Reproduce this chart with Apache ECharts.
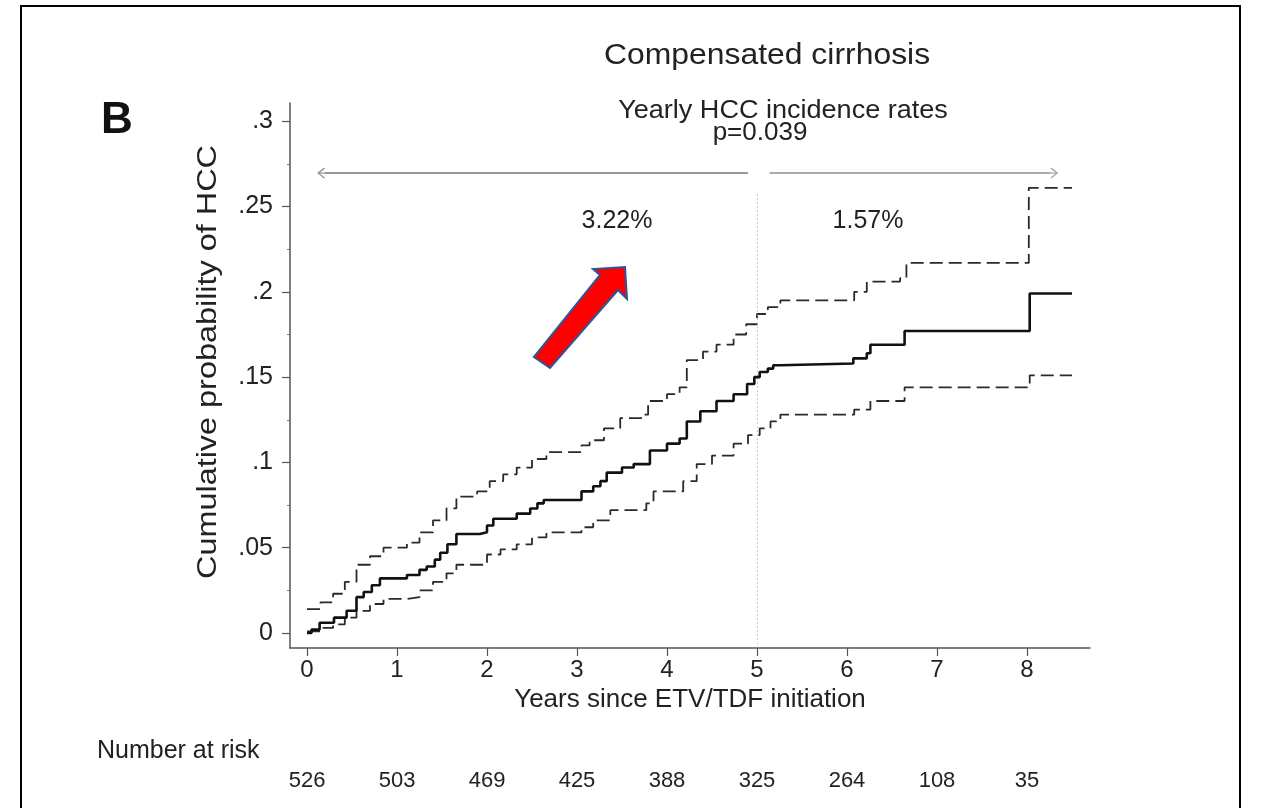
<!DOCTYPE html>
<html>
<head>
<meta charset="utf-8">
<script src="https://cdn.jsdelivr.net/npm/echarts@6/dist/echarts.min.js"></script>
<style>
html,body{margin:0;padding:0;background:#fff;}
#chart{width:1261px;height:808px;}
</style>
</head>
<body>
<div id="chart"></div>
<script>
// ---- data ----
const kmEstimate = [[0,0],[0.05,0.002],[0.14,0.006],[0.3,0.009],[0.44,0.013],[0.55,0.021],[0.63,0.024],[0.72,0.028],[0.81,0.032],[1.11,0.034],[1.25,0.037],[1.33,0.039],[1.42,0.043],[1.48,0.047],[1.56,0.052],[1.66,0.058],[1.92,0.059],[2.0,0.063],[2.07,0.067],[2.33,0.070],[2.48,0.073],[2.56,0.076],[2.63,0.078],[3.05,0.083],[3.18,0.086],[3.26,0.089],[3.33,0.094],[3.5,0.097],[3.63,0.099],[3.81,0.107],[4.0,0.111],[4.14,0.114],[4.22,0.124],[4.37,0.130],[4.55,0.136],[4.74,0.140],[4.89,0.146],[4.97,0.150],[5.03,0.153],[5.12,0.155],[5.18,0.157],[5.26,0.158],[6.07,0.161],[6.22,0.164],[6.26,0.169],[6.64,0.177],[8.03,0.199],[8.5,0.199]];
const upperCI = [[0,0.014],[0.15,0.018],[0.29,0.023],[0.42,0.030],[0.55,0.040],[0.7,0.045],[0.85,0.050],[1.11,0.053],[1.25,0.059],[1.40,0.066],[1.55,0.073],[1.66,0.080],[1.89,0.083],[2.03,0.089],[2.18,0.093],[2.33,0.097],[2.5,0.102],[2.66,0.106],[3.05,0.110],[3.14,0.113],[3.3,0.120],[3.48,0.126],[3.74,0.128],[3.79,0.136],[4.0,0.140],[4.14,0.144],[4.22,0.160],[4.4,0.165],[4.55,0.169],[4.74,0.175],[4.88,0.181],[5.0,0.187],[5.12,0.191],[5.26,0.195],[6.08,0.200],[6.22,0.206],[6.59,0.208],[6.66,0.217],[8.02,0.261],[8.5,0.261]];
const lowerCI = [[0,0.001],[0.15,0.003],[0.29,0.005],[0.42,0.009],[0.55,0.013],[0.7,0.017],[0.85,0.020],[1.11,0.021],[1.25,0.025],[1.40,0.030],[1.55,0.035],[1.66,0.040],[2.0,0.046],[2.15,0.049],[2.33,0.052],[2.5,0.056],[2.66,0.059],[3.05,0.062],[3.18,0.066],[3.37,0.072],[3.77,0.076],[3.85,0.083],[4.18,0.089],[4.33,0.099],[4.5,0.104],[4.74,0.111],[4.9,0.116],[5.03,0.120],[5.15,0.124],[5.26,0.128],[6.08,0.131],[6.26,0.136],[6.64,0.144],[8.03,0.151],[8.5,0.151]];
const xTicks = [0,1,2,3,4,5,6,7,8];
const yTicks = [0,0.05,0.1,0.15,0.2,0.25,0.3];
const yMinorTicks = [0.025,0.075,0.125,0.175,0.225,0.275];
const atRisk = [526,503,469,425,388,325,264,108,35];
const splitYear = 5;
const ratesLabels = ['3.22%','1.57%'];

const FONT = "'Liberation Sans', Arial, Helvetica, sans-serif";
const X_MIN = -0.189, X_MAX = 8.7, Y_MIN = -0.0088, Y_MAX = 0.3107;
const chevron = 'path://M5,0 L10,7 L9,8 L5.6,3 L5.6,16 L4.4,16 L4.4,3 L1,8 L0,7 Z';

const chart = echarts.init(document.getElementById('chart'), null, {renderer:'canvas'});
const option = {
  animation: false,
  backgroundColor: '#fff',
  grid: {left: 290, right: 171, top: 103, bottom: 160, containLabel: false, outerBoundsMode: 'none'},
  xAxis: [{
    type: 'value', min: X_MIN, max: X_MAX, position: 'bottom',
    axisLine: {show: true, onZero: false, lineStyle: {color: '#555', width: 1.5}},
    axisTick: {show: true, length: 8, customValues: xTicks, lineStyle: {color: '#555', width: 1.2}},
    axisLabel: {show: true, customValues: xTicks, margin: 10, fontFamily: FONT, fontSize: 24, color: '#222',
      formatter: v => String(Math.round(v))},
    splitLine: {show: false},
    name: 'Years since ETV/TDF initiation', nameLocation: 'middle', nameGap: 31,
    nameTextStyle: {fontFamily: FONT, fontSize: 26, color: '#222'}
  }, {
    type: 'value', min: X_MIN, max: X_MAX, position: 'bottom', offset: 114,
    axisLine: {show: false, onZero: false}, axisTick: {show: false}, splitLine: {show: false},
    axisLabel: {show: true, customValues: xTicks, margin: 8, fontFamily: FONT, fontSize: 22, color: '#222',
      formatter: v => String(atRisk[Math.round(v)])}
  }],
  yAxis: [{
    type: 'value', min: Y_MIN, max: Y_MAX, position: 'left',
    axisLine: {show: true, onZero: false, lineStyle: {color: '#555', width: 1.5}},
    axisTick: {show: true, length: 8, customValues: yTicks, lineStyle: {color: '#555', width: 1.2}},
    axisLabel: {show: true, customValues: yTicks, margin: 17, fontFamily: FONT, fontSize: 25, color: '#222',
      formatter: v => v === 0 ? '0' : String(v).replace('0.', '.')},
    splitLine: {show: false}
  }, {
    type: 'value', min: Y_MIN, max: Y_MAX, position: 'left',
    axisLine: {show: false, onZero: false},
    axisTick: {show: true, length: 3, customValues: yMinorTicks, lineStyle: {color: '#777', width: 1}},
    axisLabel: {show: false}, splitLine: {show: false}
  }],
  series: [
    {
      type: 'line', name: 'upper', data: upperCI, step: 'end', showSymbol: false, symbol: 'none',
      xAxisIndex: 0, yAxisIndex: 0, silent: true,
      lineStyle: {color: '#2a2a2a', width: 1.8, type: [13, 6]}
    },
    {
      type: 'line', name: 'lower', data: lowerCI, step: 'end', showSymbol: false, symbol: 'none',
      xAxisIndex: 0, yAxisIndex: 0, silent: true,
      lineStyle: {color: '#2a2a2a', width: 1.8, type: [13, 6]}
    },
    {
      type: 'line', name: 'km', data: kmEstimate, step: 'end', showSymbol: false, symbol: 'none',
      xAxisIndex: 0, yAxisIndex: 0, silent: true, z: 5,
      lineStyle: {color: '#111', width: 2.6},
      markLine: {
        silent: true, animation: false, label: {show: false},
        data: [
          [{coord: [splitYear, 0.257], symbol: 'none', lineStyle: {color: '#999', width: 1, type: [1, 3]}},
           {coord: [splitYear, Y_MIN], symbol: 'none'}],
          [{coord: [4.9, 0.2696], symbol: 'none', lineStyle: {color: '#999', width: 2, type: 'solid'}},
           {coord: [0.2, 0.2696], symbol: chevron, symbolSize: [11, 16]}],
          [{coord: [5.14, 0.2696], symbol: 'none', lineStyle: {color: '#aaa', width: 2, type: 'solid'}},
           {coord: [8.26, 0.2696], symbol: chevron, symbolSize: [11, 16]}]
        ]
      }
    }
  ],
  graphic: [
    {type: 'rect', shape: {x: 21, y: 6, width: 1219, height: 840}, style: {fill: 'none', stroke: '#000', lineWidth: 2}, silent: true},
    {type: 'text', x: 117, y: 121, style: {text: 'B', font: 'bold 44px ' + FONT, fill: '#111', align: 'center', verticalAlign: 'middle'}},
    {type: 'text', x: 767, y: 56, scaleX: 1.1, style: {text: 'Compensated cirrhosis', font: '29px ' + FONT, fill: '#222', align: 'center', verticalAlign: 'middle'}},
    {type: 'text', x: 783, y: 111, scaleX: 1.04, style: {text: 'Yearly HCC incidence rates', font: '26px ' + FONT, fill: '#222', align: 'center', verticalAlign: 'middle'}},
    {type: 'text', x: 760, y: 133, style: {text: 'p=0.039', font: '26px ' + FONT, fill: '#222', align: 'center', verticalAlign: 'middle'}},
    {type: 'text', x: 617, y: 221, style: {text: ratesLabels[0], font: '25px ' + FONT, fill: '#222', align: 'center', verticalAlign: 'middle'}},
    {type: 'text', x: 868, y: 221, style: {text: ratesLabels[1], font: '25px ' + FONT, fill: '#222', align: 'center', verticalAlign: 'middle'}},
    {type: 'text', x: 209, y: 362, rotation: Math.PI / 2, scaleX: 1.2, style: {text: 'Cumulative probability of HCC', font: '27px ' + FONT, fill: '#222', align: 'center', verticalAlign: 'middle'}},
    {type: 'text', x: 97, y: 751, style: {text: 'Number at risk', font: '25px ' + FONT, fill: '#222', align: 'left', verticalAlign: 'middle'}},
    {type: 'polygon', shape: {points: [[534,357],[600,275],[593,269],[625,267],[627,299],[618,290],[550,368]]},
      style: {fill: '#FF0000', stroke: '#2F5597', lineWidth: 2}, z: 100}
  ]
};
chart.setOption(option);
</script>
</body>
</html>
